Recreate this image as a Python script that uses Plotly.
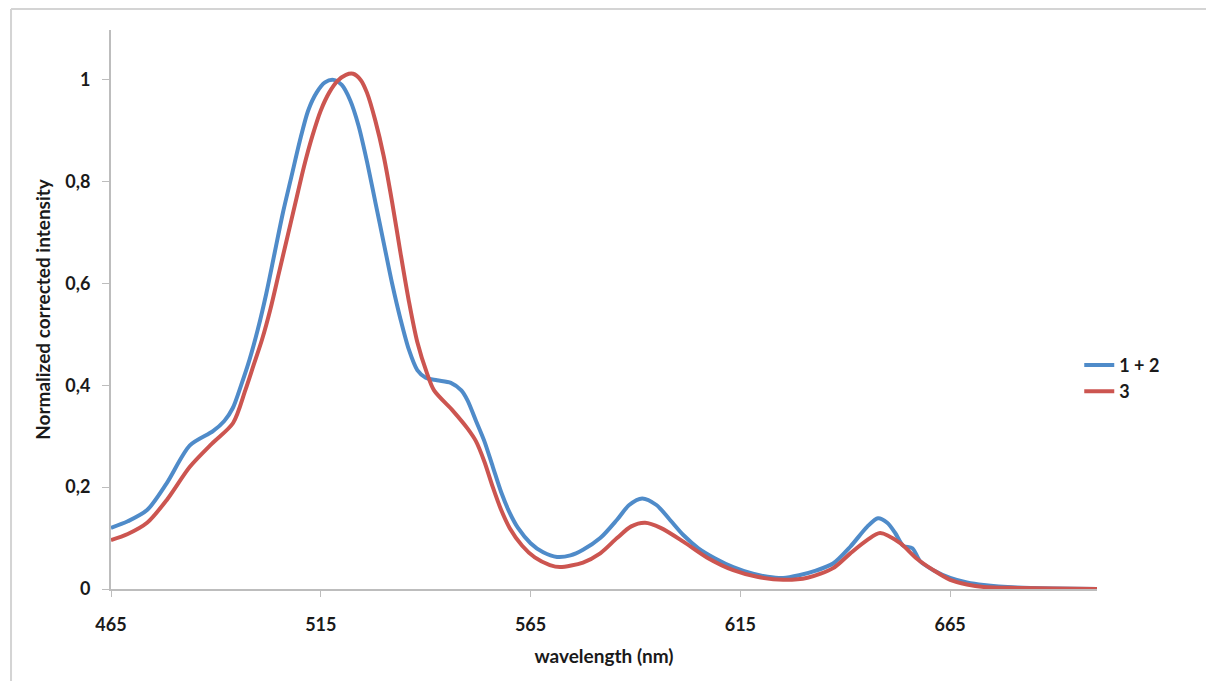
import plotly.graph_objects as go

# Series "1 + 2" (blue)
wl_a = [465, 469, 473.6, 478.3, 483.8, 489.3, 492, 494, 496, 498, 500, 502, 504, 506, 508, 510, 512,
        514, 516, 518, 520, 522, 524, 526, 528, 530, 532, 534, 536, 538, 540, 542.7, 546, 548.5,
        550, 552, 554, 556, 558, 560, 562, 565, 568, 571.3, 574.5, 577.5, 581.6, 585.6, 588.5,
        591.6, 595, 598, 601.4, 605, 609, 613.3, 618, 621.5, 625.2, 629, 633, 637.1, 641.2, 645.2,
        647.8, 650, 651.9, 653.8, 656, 657.8, 661, 665, 669, 673, 681, 690, 700]
int_a = [0.12, 0.133, 0.155, 0.208, 0.282, 0.31, 0.33, 0.355, 0.40, 0.45, 0.51, 0.58, 0.66, 0.74, 0.81,
         0.88, 0.94, 0.975, 0.995, 1.0, 0.99, 0.96, 0.91, 0.84, 0.76, 0.68, 0.6, 0.53, 0.47, 0.43,
         0.415, 0.41, 0.405, 0.39, 0.37, 0.33, 0.29, 0.24, 0.19, 0.15, 0.12, 0.09, 0.072, 0.063,
         0.066, 0.077, 0.1, 0.136, 0.165, 0.178, 0.165, 0.138, 0.106, 0.08, 0.06, 0.043, 0.03,
         0.024, 0.0216, 0.027, 0.036, 0.05, 0.083, 0.122, 0.139, 0.13, 0.11, 0.085, 0.08, 0.055,
         0.037, 0.022, 0.013, 0.008, 0.003, 0.001, 0.0]

# Series "3" (red)
wl_b = [465, 469, 473.6, 478.3, 483.8, 489, 494.1, 497, 499, 501, 503, 505, 507, 509, 511, 513, 515,
        517, 519, 521, 522.7, 524.5, 526, 528, 530, 532, 534, 536, 538, 540.3, 542, 546.5, 550,
        552, 554, 556, 558, 560, 563, 566, 569.6, 572, 577.5, 581.6, 585.6, 589, 592.3, 596,
        601.4, 607, 613.3, 619, 625.2, 631, 637.1, 641.2, 645.2, 648.3, 653.1, 657, 661, 665,
        669, 673, 681, 690, 700]
int_b = [0.096, 0.108, 0.13, 0.175, 0.24, 0.285, 0.326, 0.39, 0.44, 0.49, 0.55, 0.62, 0.69, 0.76,
         0.83, 0.89, 0.94, 0.975, 0.998, 1.01, 1.012, 1.0, 0.975, 0.92, 0.85, 0.76, 0.66, 0.565,
         0.485, 0.424, 0.39, 0.35, 0.315, 0.29, 0.25, 0.2, 0.155, 0.12, 0.085, 0.062, 0.047, 0.043,
         0.052, 0.07, 0.1, 0.123, 0.13, 0.12, 0.093, 0.062, 0.037, 0.024, 0.018, 0.022, 0.041,
         0.07, 0.096, 0.11, 0.09, 0.06, 0.037, 0.018, 0.009, 0.004, 0.002, 0.001, 0.0]

x_ticks = [465, 515, 565, 615, 665]
y_ticks = [0, 0.2, 0.4, 0.6, 0.8, 1]
y_labels = ["0", "0,2", "0,4", "0,6", "0,8", "1"]

FONT = "Lato"
TXT = "#1a1a1a"
AXC = "#bdbdbd"
BORDER = "#d4d4d4"

fig = go.Figure()
fig.add_trace(go.Scatter(x=wl_a, y=int_a, mode="lines", name="<b>1 + 2</b>",
                         line=dict(color="#4F8BC9", width=4, shape="spline", smoothing=0.8)))
fig.add_trace(go.Scatter(x=wl_b, y=int_b, mode="lines", name="<b>3</b>",
                         line=dict(color="#CC5550", width=4, shape="spline", smoothing=0.8)))

fig.update_layout(
    width=1206, height=681,
    margin=dict(l=111, r=109, t=30, b=92),
    paper_bgcolor="white", plot_bgcolor="white",
    font=dict(family=FONT, color=TXT, size=18),
    showlegend=True,
    legend=dict(x=0.982, y=0.377, xanchor="left", yanchor="middle",
                font=dict(family=FONT, size=18, color=TXT),
                bgcolor="rgba(0,0,0,0)", itemwidth=30),
    xaxis=dict(range=[465, 700], tickvals=x_ticks, ticktext=[f"<b>{t}</b>" for t in x_ticks],
               showgrid=False, zeroline=False, showline=True, linecolor=AXC, linewidth=2,
               ticks="outside", ticklen=6, tickcolor=AXC, tickwidth=1, ticklabelstandoff=12,
               tickfont=dict(family=FONT, size=18, color=TXT), automargin=False,
               title=dict(text="<b>wavelength (nm)</b>", standoff=16,
                          font=dict(family=FONT, size=19, color=TXT))),
    yaxis=dict(range=[0, 1.098], tickvals=y_ticks, ticktext=[f"<b>{t}</b>" for t in y_labels],
               showgrid=False, zeroline=False, showline=True, linecolor=AXC, linewidth=2,
               ticks="outside", ticklen=7, tickcolor=AXC, tickwidth=1, ticklabelstandoff=8,
               tickfont=dict(family=FONT, size=18, color=TXT), automargin=False,
               title=dict(text="<b>Normalized corrected intensity</b>", standoff=10,
                          font=dict(family=FONT, size=19, color=TXT))),
    shapes=[
        dict(type="line", xref="paper", yref="paper", x0=-0.1014, x1=1.2, y0=1.0376, y1=1.0376,
             line=dict(color=BORDER, width=2), layer="below"),
        dict(type="line", xref="paper", yref="paper", x0=-0.1014, x1=-0.1014, y0=-0.3, y1=1.0376,
             line=dict(color=BORDER, width=2), layer="below"),
    ],
)

# remove the browser's default 8px page margin and any scrollbars
fig.write_html("out.html",
               config={"displayModeBar": False},
               post_script=("document.body.style.margin='0';"
                            "document.body.style.overflow='hidden';"
                            "document.documentElement.style.overflow='hidden';"))
